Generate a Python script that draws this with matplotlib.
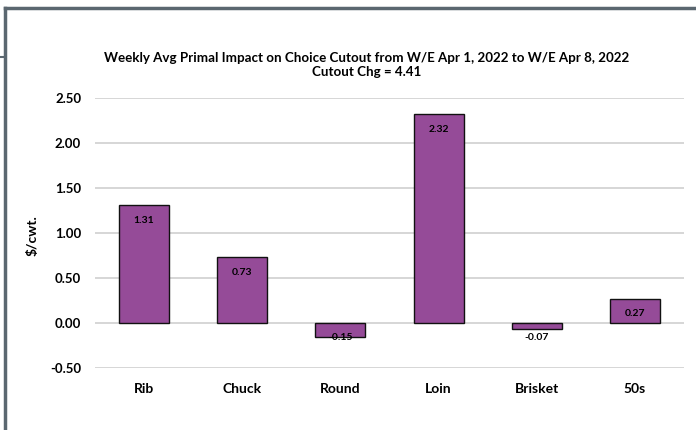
import matplotlib
matplotlib.use("Agg")
import matplotlib.pyplot as plt
from matplotlib.lines import Line2D

categories = ["Rib", "Chuck", "Round", "Loin", "Brisket", "50s"]
values = [1.31, 0.73, -0.15, 2.32, -0.07, 0.27]
y_ticks = [-0.5, 0.0, 0.5, 1.0, 1.5, 2.0, 2.5]
title = ("Weekly Avg Primal Impact on Choice Cutout from W/E Apr 1, 2022 to W/E Apr 8, 2022\n"
         "Cutout Chg = 4.41")

plt.rcParams["font.family"] = ["Lato", "DejaVu Sans"]

fig = plt.figure(figsize=(6.96, 4.30), dpi=100)
ax = fig.add_axes([95 / 696, 1 - 368 / 430, (684 - 95) / 696, (368 - 98) / 430])

x = list(range(len(categories)))
ax.bar(x, values, width=0.51, color="#954B98", edgecolor="#111111",
       linewidth=1.0, zorder=3)

ax.set_xlim(-0.5, len(categories) - 0.5)
ax.set_ylim(-0.5, 2.5)
ax.set_yticks(y_ticks)
ax.set_yticklabels([f"{v:.2f}" for v in y_ticks], fontsize=9.5, fontweight="bold")
ax.set_xticks(x)
ax.set_xticklabels(categories, fontsize=10, fontweight="bold")
ax.tick_params(axis="both", length=0)
ax.tick_params(axis="y", pad=10)
ax.tick_params(axis="x", pad=11)
ax.grid(axis="y", color="#d0d0d0", linewidth=1.2, zorder=0)
for s in ax.spines.values():
    s.set_visible(False)

ax.set_ylabel("$/cwt.", fontsize=10, fontweight="bold")
ax.yaxis.set_label_coords(-0.095, 0.49)

for xi, v in zip(x, values):
    if v >= 0:
        ax.annotate(f"{v:.2f}", (xi, v), xytext=(0, -11), textcoords="offset points",
                    ha="center", va="center", fontsize=7.5, fontweight="bold", zorder=4)
    else:
        ax.annotate(f"{v:.2f}", (xi, -0.16), ha="center", va="center",
                    fontsize=7.5, fontweight="bold", zorder=4)

fig.text(367 / 696, 1 - 65 / 430, title, ha="center", va="center",
         fontsize=9.6, fontweight="bold", linespacing=1.25)

# Frame lines along the top and left edges
fig.add_artist(Line2D([5 / 696, 1.0], [1 - 8 / 430, 1 - 8 / 430], transform=fig.transFigure,
                      color="#5b6770", linewidth=2.5))
fig.add_artist(Line2D([5 / 696, 5 / 696], [0.0, 1 - 8 / 430], transform=fig.transFigure,
                      color="#5b6770", linewidth=2.5))
fig.add_artist(Line2D([0.0, 5 / 696], [1 - 57 / 430, 1 - 57 / 430], transform=fig.transFigure,
                      color="#5b6770", linewidth=1.5))

fig.savefig("out.png", dpi=100)
